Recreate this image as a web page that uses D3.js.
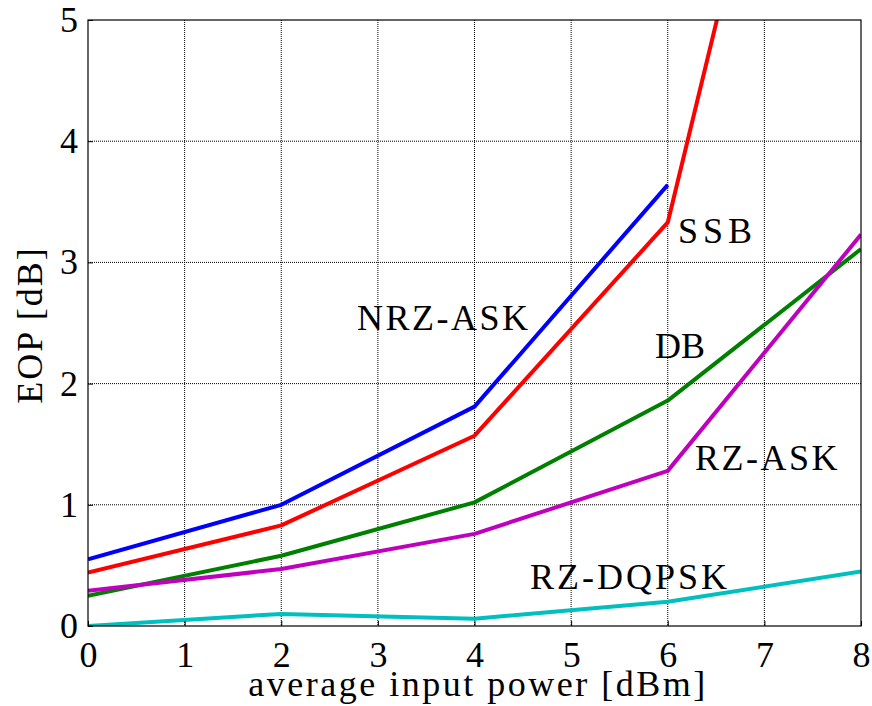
<!DOCTYPE html>
<html><head><meta charset="utf-8">
<script src="https://cdn.jsdelivr.net/npm/d3@7"></script>
<style>body{margin:0;background:#fff}</style>
</head><body>
<svg id="c" width="872" height="706"></svg>
<script>
const xValues = [0, 2, 4, 6, 8];
const nrzAsk = [0.55, 1.0, 1.81, 3.64, null];
const ssb = [0.44, 0.83, 1.57, 3.33, 9.9];
const db = [0.25, 0.58, 1.02, 1.86, 3.11];
const rzAsk = [0.29, 0.47, 0.76, 1.28, 3.23];
const rzDqpsk = [0.0, 0.1, 0.06, 0.2, 0.45];
const xTicks = [0,1,2,3,4,5,6,7,8];
const yTicks = [0,1,2,3,4,5];
const seriesNames = ["NRZ-ASK","SSB","DB","RZ-ASK","RZ-DQPSK"];
const seriesColors = ["#0000ff","#ff0000","#008000","#bf00bf","#00bfbf"];
const seriesData = [nrzAsk, ssb, db, rzAsk, rzDqpsk];
const labelPos = [[357,330],[678,243],[655,358],[695,470],[530,589]];
const labelSpacing = [2.5,5,0,2.5,3];

const FONT = "Liberation Serif";
const svg = d3.select("#c");
const L=88, R=861, T=20, B=626;
const x = d3.scaleLinear().domain([0,8]).range([L,R]);
const y = d3.scaleLinear().domain([0,5]).range([B,T]);

const g = svg.append("g");
g.selectAll(".gx").data(xTicks.slice(1,-1)).enter().append("line")
  .attr("x1",d=>x(d)).attr("x2",d=>x(d)).attr("y1",T).attr("y2",B)
  .attr("stroke","#000").attr("stroke-width",1).attr("stroke-dasharray","1,1");
g.selectAll(".gy").data(yTicks.slice(1,-1)).enter().append("line")
  .attr("y1",d=>y(d)).attr("y2",d=>y(d)).attr("x1",L).attr("x2",R)
  .attr("stroke","#000").attr("stroke-width",1).attr("stroke-dasharray","1,1");

svg.append("clipPath").attr("id","clip").append("rect")
  .attr("x",L).attr("y",T).attr("width",R-L).attr("height",B-T);

const line = d3.line().defined(d=>d[1]!==null).x(d=>x(d[0])).y(d=>y(d[1]));
seriesData.forEach((s,i)=>{
  svg.append("path").datum(xValues.map((xv,j)=>[xv,s[j]]))
    .attr("d",line).attr("fill","none").attr("stroke",seriesColors[i])
    .attr("stroke-width",4).attr("stroke-linejoin","round")
    .attr("clip-path","url(#clip)");
});

svg.append("rect").attr("x",L).attr("y",T).attr("width",R-L).attr("height",B-T)
  .attr("fill","none").attr("stroke","#000").attr("stroke-width",1.2);

const xAxis = d3.axisBottom(x).tickValues(xTicks).tickFormat(d3.format("d")).tickSizeInner(-5).tickSizeOuter(0).tickPadding(15);
const yAxis = d3.axisLeft(y).tickValues(yTicks).tickFormat(d3.format("d")).tickSizeInner(-5).tickSizeOuter(0).tickPadding(10);
const ax = svg.append("g").attr("transform",`translate(0,${B})`).call(xAxis);
const ay = svg.append("g").attr("transform",`translate(${L},0)`).call(yAxis);
[ax,ay].forEach(a=>{
  a.attr("font-family",FONT).attr("font-size",36);
  a.select(".domain").remove();
  a.selectAll("line").attr("stroke","#000");
  a.selectAll("text").attr("font-family",FONT).attr("font-size",36).attr("fill","#000");
});

svg.append("text").attr("x",478).attr("y",696).attr("text-anchor","middle")
  .attr("font-family",FONT).attr("font-size",36).attr("letter-spacing",2.5)
  .text("average input power [dBm]");
svg.append("text").attr("transform",`translate(42,${325}) rotate(-90)`).attr("text-anchor","middle")
  .attr("font-family",FONT).attr("font-size",36).attr("letter-spacing",2)
  .text("EOP [dB]");

seriesNames.forEach((n,i)=>{
  svg.append("text").attr("x",labelPos[i][0]).attr("y",labelPos[i][1])
    .attr("font-family",FONT).attr("font-size",36).attr("letter-spacing",labelSpacing[i]).text(n);
});
</script>
</body></html>
